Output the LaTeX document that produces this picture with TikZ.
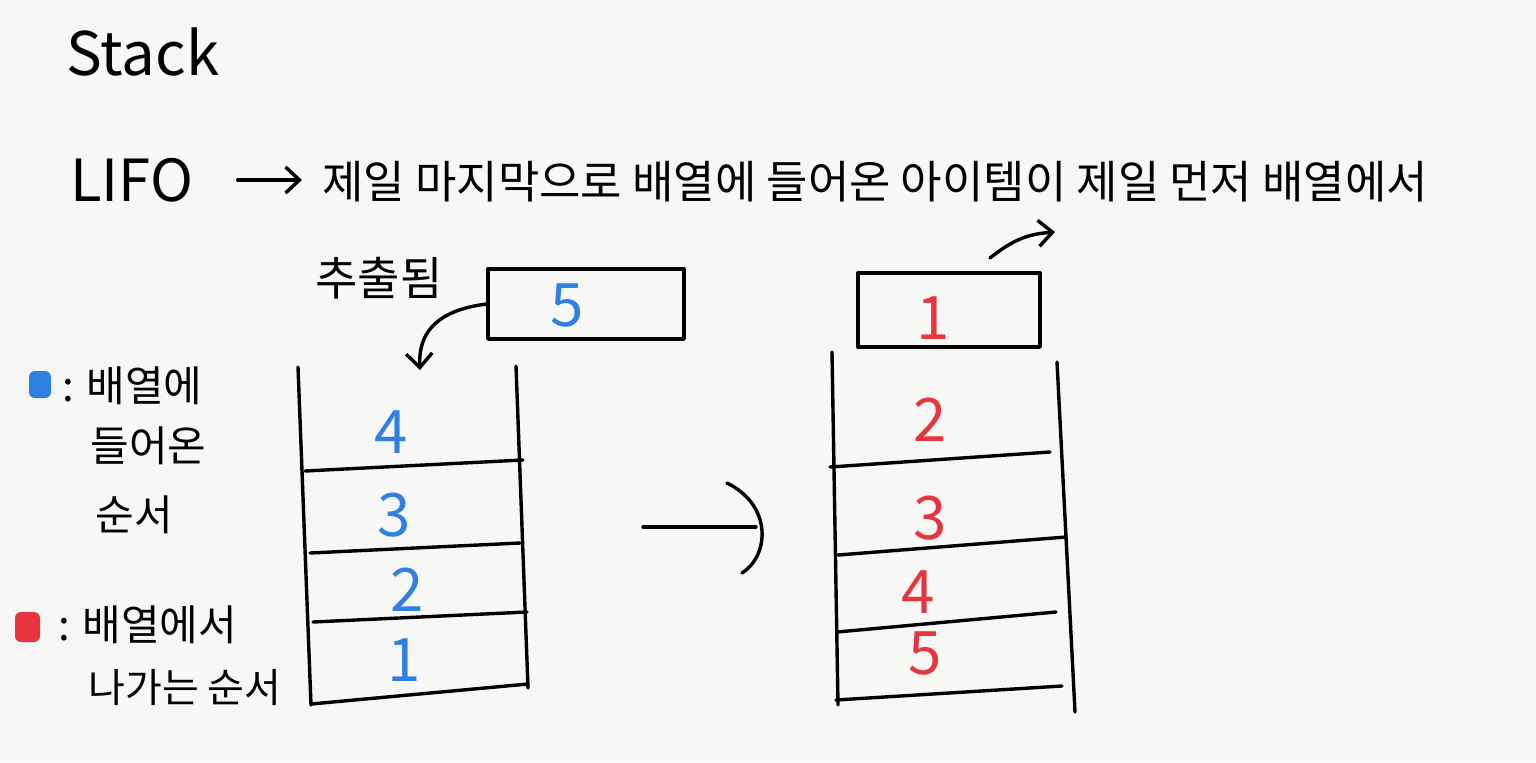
\documentclass[tikz,border=0pt]{standalone}
\usepackage{fontspec}
\setmainfont{Noto Sans CJK KR}
\usetikzlibrary{arrows.meta}
\definecolor{paper}{HTML}{F7F7F5}
\definecolor{inkblue}{HTML}{2F80E2}
\definecolor{inkred}{HTML}{E8343F}
\begin{document}
\begin{tikzpicture}[x=0.5pt,y=-0.5pt,
  ink/.style={line width=1.7pt, line cap=round, line join=round, draw=black},
  barb/.style={-{Straight Barb[length=7pt,width=13pt,line width=1.7pt]}},
  txt/.style={font=\fontsize{22.5}{26}\selectfont, inner sep=0pt, anchor=west},
  lgd/.style={font=\fontsize{21}{25}\selectfont, inner sep=0pt, anchor=west},
  numblue/.style={text=inkblue, font=\fontsize{30}{30}\selectfont, inner sep=0pt},
  numred/.style={text=inkred, font=\fontsize{30}{30}\selectfont, inner sep=0pt},
  cellbox/.style={ink, inner sep=0pt}]
\fill[paper] (0,0) rectangle (1536,762);
\useasboundingbox (0,0) rectangle (1536,762);

% heading
\node[anchor=west, inner sep=0pt, font=\fontsize{30}{30}\selectfont] (title) at (66,52) {Stack};
\node[anchor=west, inner sep=0pt, font=\fontsize{29}{29}\selectfont] (lifo) at (70,180) {LIFO};
\node[txt] (sent) at (322,182) {제일 마지막으로 배열에 들어온 아이템이 제일 먼저 배열에서};
\node[txt, font=\fontsize{23}{26}\selectfont] (sent2) at (315,278) {추출됨};
\draw[ink, barb, shorten <=22pt, shorten >=10pt] (lifo.east) -- (sent.west |- lifo.east);

% left stack: incoming item
\node[cellbox, draw, minimum width=98pt, minimum height=35pt] (b5) at (586,304) {};
\node[numblue] (n5) at (567,305) {5};
\coordinate (ltop) at (420,370);
\draw[ink, barb] (b5.west) .. controls (440,310) and (418,330) .. (ltop);

% left stack body
\coordinate (lwt) at (298,367); \coordinate (lwb) at (311,705);
\coordinate (rwt) at (516,366); \coordinate (rwb) at (528,688);
\draw[ink] (lwt) -- (lwb);
\draw[ink] (rwt) -- (rwb);
\draw[ink] (305,471) -- (523,460);
\draw[ink] (310,553) -- (520,543);
\draw[ink] (313,622) -- (527,612);
\draw[ink] (311,704) -- (528,684);
\node[numblue] (l4) at (391,432) {4};
\node[numblue] (l3) at (394,515) {3};
\node[numblue] (l2) at (407,590) {2};
\node[numblue] (l1) at (404,660) {1};

% middle arrow
\coordinate (ms) at (643,527);
\coordinate (me) at (756,527);
\draw[ink] (ms) -- (me);
\coordinate (a1) at (727,483); \coordinate (a2) at (742,573);
\draw[ink] (a1) .. controls (772,505) and (770,555) .. (a2);

% right stack: outgoing item
\node[cellbox, draw, minimum width=91pt, minimum height=37pt] (b1) at (949,310) {};
\node[numred] (n1) at (933,318) {1};
\coordinate (out) at (1055,232);
\draw[ink, barb] (990,258) coordinate (os) .. controls (1015,238) and (1030,234) .. (out);

% right stack body
\draw[ink] (832,352) -- (838,705);
\draw[ink] (1057,362) -- (1075,712);
\draw[ink] (830,467) -- (1050,452);
\draw[ink] (838,555) -- (1066,537);
\draw[ink] (837,632) -- (1056,612);
\draw[ink] (836,700) -- (1062,686);
\node[numred] (r2) at (930,420) {2};
\node[numred] (r3) at (930,518) {3};
\node[numred] (r4) at (918,592) {4};
\node[numred] (r5) at (925,653) {5};

% legend
\fill[inkblue, rounded corners=3pt] (29,371) rectangle (51,398);
\node[lgd] (lg1a) at (62,386) {: 배열에};
\node[lgd] (lg1b) at (90,446) {들어온};
\node[lgd] (lg1c) at (95,515) {순서};
\fill[inkred, rounded corners=3pt] (15,612) rectangle (40,642);
\node[lgd] (lg2a) at (58,625) {: 배열에서};
\node[lgd, font=\fontsize{20}{24}\selectfont] (lg2b) at (88,688) {나가는 순서};
\end{tikzpicture}
\end{document}
